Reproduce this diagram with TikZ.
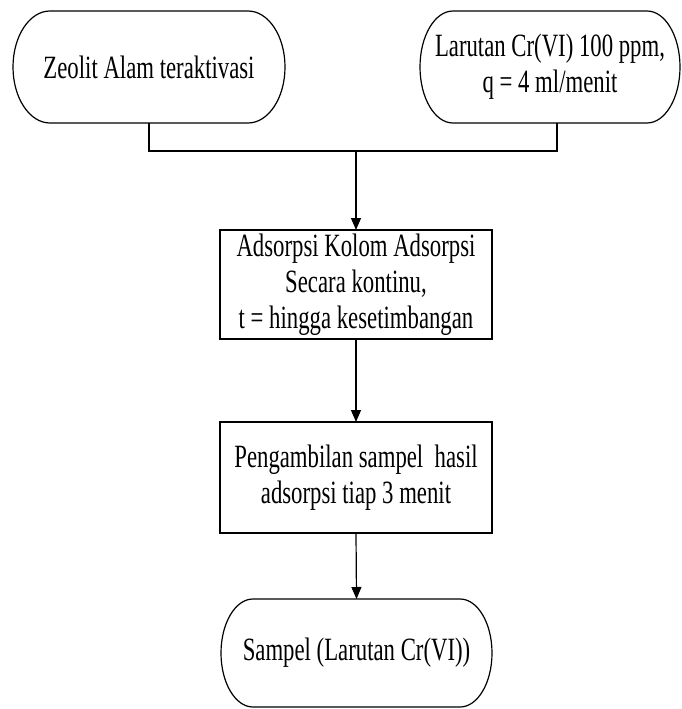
\documentclass[tikz,border=0pt]{standalone}
\usepackage{fontspec}
\setmainfont{Liberation Serif}[FakeStretch=0.70]
\usetikzlibrary{arrows.meta}
\newcommand\termshape[3]{%
  \draw[boxline] ([xshift=#2pt]#1.north west) -- ([xshift=-#2pt]#1.north east)
    arc[start angle=90,end angle=-90,x radius=#2pt,y radius=#3pt]
    -- ([xshift=#2pt]#1.south west)
    arc[start angle=270,end angle=90,x radius=#2pt,y radius=#3pt] -- cycle;}
\begin{document}
\begin{tikzpicture}[x=1pt,y=-1pt,
  boxline/.style={line width=1.2pt,black},
  txt/.style={font=\fontsize{32.5}{36}\selectfont,align=center,inner sep=0pt,outer sep=0pt},
  term/.style={txt,minimum height=#1},
  procbox/.style={txt,draw,line width=1.2pt,minimum width=272pt},
  conn/.style={line width=1.2pt},
  arr/.style={conn,-{Triangle[length=12pt,width=10pt]}}]
\useasboundingbox (0,0) rectangle (681,709);
% nodes
\node[txt,minimum width=272pt,minimum height=112pt] (l) at (149,67) {Zeolit Alam teraktivasi};
\node[txt,minimum width=260pt,minimum height=112pt] (r) at (550,67) {Larutan Cr(VI) 100 ppm,\\q = 4 ml/menit};
\node[procbox,minimum height=109pt] (m) at (356,284.5) {Adsorpsi Kolom Adsorpsi\\Secara kontinu,\\t = hingga kesetimbangan};
\node[procbox,minimum height=111pt] (p) at (356,477.5) {Pengambilan sampel~ hasil\\adsorpsi tiap 3 menit};
\node[txt,minimum width=271pt,minimum height=108pt] (b) at (356.5,653) {Sampel (Larutan Cr(VI))};
\termshape{l}{37}{56}
\termshape{r}{33}{56}
\termshape{b}{32}{54}
% connectors
\coordinate (j) at (356,151);
\coordinate (rj) at ([xshift=7pt]r.south);
\draw[conn] (l.south) |- (j) -| (rj);
\draw[arr] (j) -- (m.north);
\draw[arr] (m.south) -- (p.north);
\draw[arr] (p.south) -- (b.north);
\end{tikzpicture}
\end{document}
